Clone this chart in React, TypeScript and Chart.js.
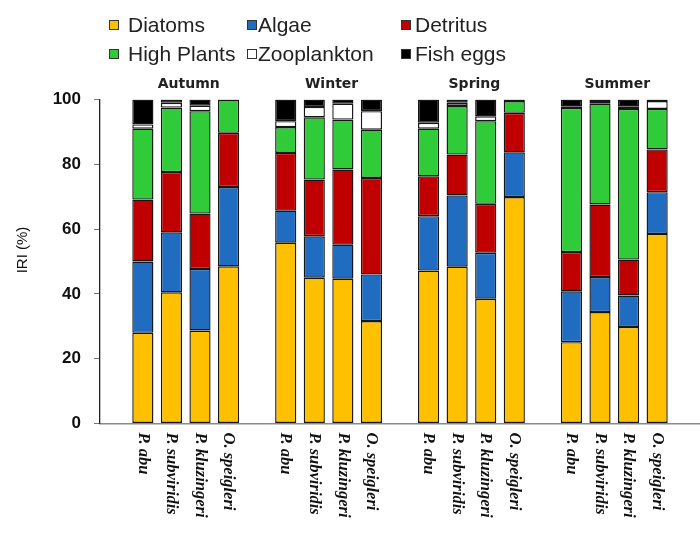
import React, { useEffect, useRef } from 'react';
import { Chart, registerables } from 'chart.js';

Chart.register(...registerables);

// ---- Data ----
const seasons = ['Autumn', 'Winter', 'Spring', 'Summer'];
const species = ['P. abu', 'P. subviridis', 'P. kluzingeri', 'O. speigleri'];
const seriesNames = ['Diatoms', 'Algae', 'Detritus', 'High Plants', 'Zooplankton', 'Fish eggs'];
const seriesColors = ['#FFC000', '#1F6CC0', '#C00000', '#2FCB38', '#FFFFFF', '#000000'];
const yTicks = [0, 20, 40, 60, 80, 100];

// order: Autumn (4 species), Winter, Spring, Summer
const diatoms = [28, 40.5, 28.7, 48.5, 55.8, 45, 44.7, 31.6, 47.2, 48.4, 38.5, 69.9, 25.1, 34.4, 29.8, 58.5];
const algae = [22, 18.5, 19, 24.5, 9.9, 12.8, 10.5, 14.4, 16.8, 22, 14.2, 13.8, 15.7, 10.8, 9.7, 12.9];
const detritus = [19.1, 18.6, 17.1, 16.7, 17.8, 17.5, 23.2, 29.8, 12.3, 12.6, 15.1, 12.2, 12.1, 22.4, 11.1, 13.2];
const highPlants = [21.9, 19.9, 31.6, 10.3, 8, 19.2, 15.4, 14.9, 14.7, 15, 25.5, 3.6, 44.5, 31.1, 46.5, 12.5];
const zooplankton = [1.3, 1.5, 1.7, 0, 1.8, 3.2, 4.9, 5.7, 1.8, 1, 1.5, 0.5, 0.5, 0.8, 0.8, 2.4];
const fishEggs = [7.7, 1, 1.9, 0, 6.7, 2.3, 1.3, 3.6, 7.2, 1, 5.2, 0, 2.1, 0.5, 2.1, 0.5];

const seriesValues = [diatoms, algae, detritus, highPlants, zooplankton, fishEggs];

// build category slots: blank, 4 bars, blank, 4 bars, ... , blank
const slotLabels: string[] = [];
const slotIndex: number[] = []; // maps slot -> data index or -1
slotLabels.push('');
slotIndex.push(-1);
seasons.forEach((_, si) => {
  species.forEach((sp, k) => {
    slotLabels.push(sp);
    slotIndex.push(si * species.length + k);
  });
  slotLabels.push('');
  slotIndex.push(-1);
});

export default function App() {
  const canvasRef = useRef<HTMLCanvasElement | null>(null);

  useEffect(() => {
    const canvas = canvasRef.current;
    if (!canvas) return;

    const labelPlugin = {
      id: 'customLabels',
      afterDraw(chart: any) {
        const ctx = chart.ctx as CanvasRenderingContext2D;
        const xScale = chart.scales.x;
        ctx.save();
        // season labels
        ctx.fillStyle = '#222';
        ctx.font = 'bold 14px "DejaVu Sans"';
        ctx.textAlign = 'center';
        ctx.textBaseline = 'middle';
        seasons.forEach((s, si) => {
          const first = 1 + si * (species.length + 1);
          const last = first + species.length - 1;
          const cx = (xScale.getPixelForValue(first) + xScale.getPixelForValue(last)) / 2;
          ctx.fillText(s, cx + 3, 84);
        });
        // species labels rotated clockwise
        ctx.font = 'italic bold 16.5px "Liberation Serif"';
        ctx.textAlign = 'left';
        ctx.textBaseline = 'middle';
        ctx.fillStyle = '#111';
        slotLabels.forEach((lab, i) => {
          if (!lab) return;
          const x = xScale.getPixelForValue(i);
          ctx.save();
          ctx.translate(x, chart.chartArea.bottom + 9);
          ctx.rotate(Math.PI / 2);
          ctx.fillText(lab, 0, 0);
          ctx.restore();
        });
        // y title
        ctx.save();
        ctx.font = '15px "Liberation Sans"';
        ctx.fillStyle = '#111';
        ctx.textAlign = 'center';
        ctx.textBaseline = 'middle';
        ctx.translate(23, 250);
        ctx.rotate(-Math.PI / 2);
        ctx.fillText('IRI (%)', 0, 0);
        ctx.restore();
        ctx.restore();
      },
    };

    const chart = new Chart(canvas, {
      type: 'bar',
      data: {
        labels: slotLabels,
        datasets: seriesNames.map((name, si) => ({
          label: name,
          data: slotIndex.map((idx) => (idx < 0 ? null : seriesValues[si][idx])),
          backgroundColor: seriesColors[si],
          borderColor: '#161616',
          borderWidth: 1.4,
          borderSkipped: false,
          barPercentage: 0.74,
          categoryPercentage: 1,
        })),
      },
      options: {
        responsive: false,
        animation: false,
        devicePixelRatio: 1,
        layout: { padding: { top: 99.5, left: 0, right: 0, bottom: 0 } },
        plugins: {
          legend: { display: false },
          tooltip: { enabled: false },
        },
        scales: {
          x: {
            stacked: true,
            grid: { display: false, drawTicks: false },
            border: { color: '#8a8a8a', width: 1.5 },
            ticks: { display: false },
            afterFit: (s: any) => {
              s.height = 536 - 423.5;
            },
          },
          y: {
            stacked: true,
            min: 0,
            max: 100,
            afterBuildTicks: (s: any) => {
              s.ticks = yTicks.map((v) => ({ value: v }));
            },
            ticks: {
              color: '#111',
              font: { family: '"Liberation Sans"', size: 17, weight: 'bold' },
              padding: 13,
            },
            grid: { drawOnChartArea: false, tickLength: 6, color: '#777', lineWidth: 1 },
            border: { color: '#222', width: 1.3 },
            afterFit: (s: any) => {
              s.width = 100;
            },
          },
        },
      },
      plugins: [labelPlugin],
    } as any);

    return () => chart.destroy();
  }, []);

  const legendPos = [
    { box: 109, text: 128, row: 0 },
    { box: 247, text: 258, row: 0 },
    { box: 401, text: 415, row: 0 },
    { box: 109, text: 128, row: 1 },
    { box: 247, text: 258, row: 1 },
    { box: 401, text: 415, row: 1 },
  ];
  const rowY = [25, 54];

  return (
    <div style={{ position: 'absolute', left: 0, top: 0, width: 700, height: 536, background: '#fff', overflow: 'hidden' }}>
      <canvas ref={canvasRef} width={700} height={536} style={{ position: 'absolute', left: 0, top: 0, width: 700, height: 536 }} />
      {seriesNames.map((name, i) => {
        const p = legendPos[i];
        return (
          <React.Fragment key={name}>
            <div
              style={{
                position: 'absolute',
                left: p.box,
                top: rowY[p.row] - 5,
                width: 8,
                height: 8,
                background: seriesColors[i],
                border: '1px solid #333',
              }}
            />
            <div
              style={{
                position: 'absolute',
                left: p.text,
                top: rowY[p.row] - 13,
                height: 26,
                lineHeight: '26px',
                fontFamily: '"Liberation Sans", Arial, sans-serif',
                fontSize: 21,
                color: '#222',
                whiteSpace: 'nowrap',
              }}
            >
              {name}
            </div>
          </React.Fragment>
        );
      })}
    </div>
  );
}
